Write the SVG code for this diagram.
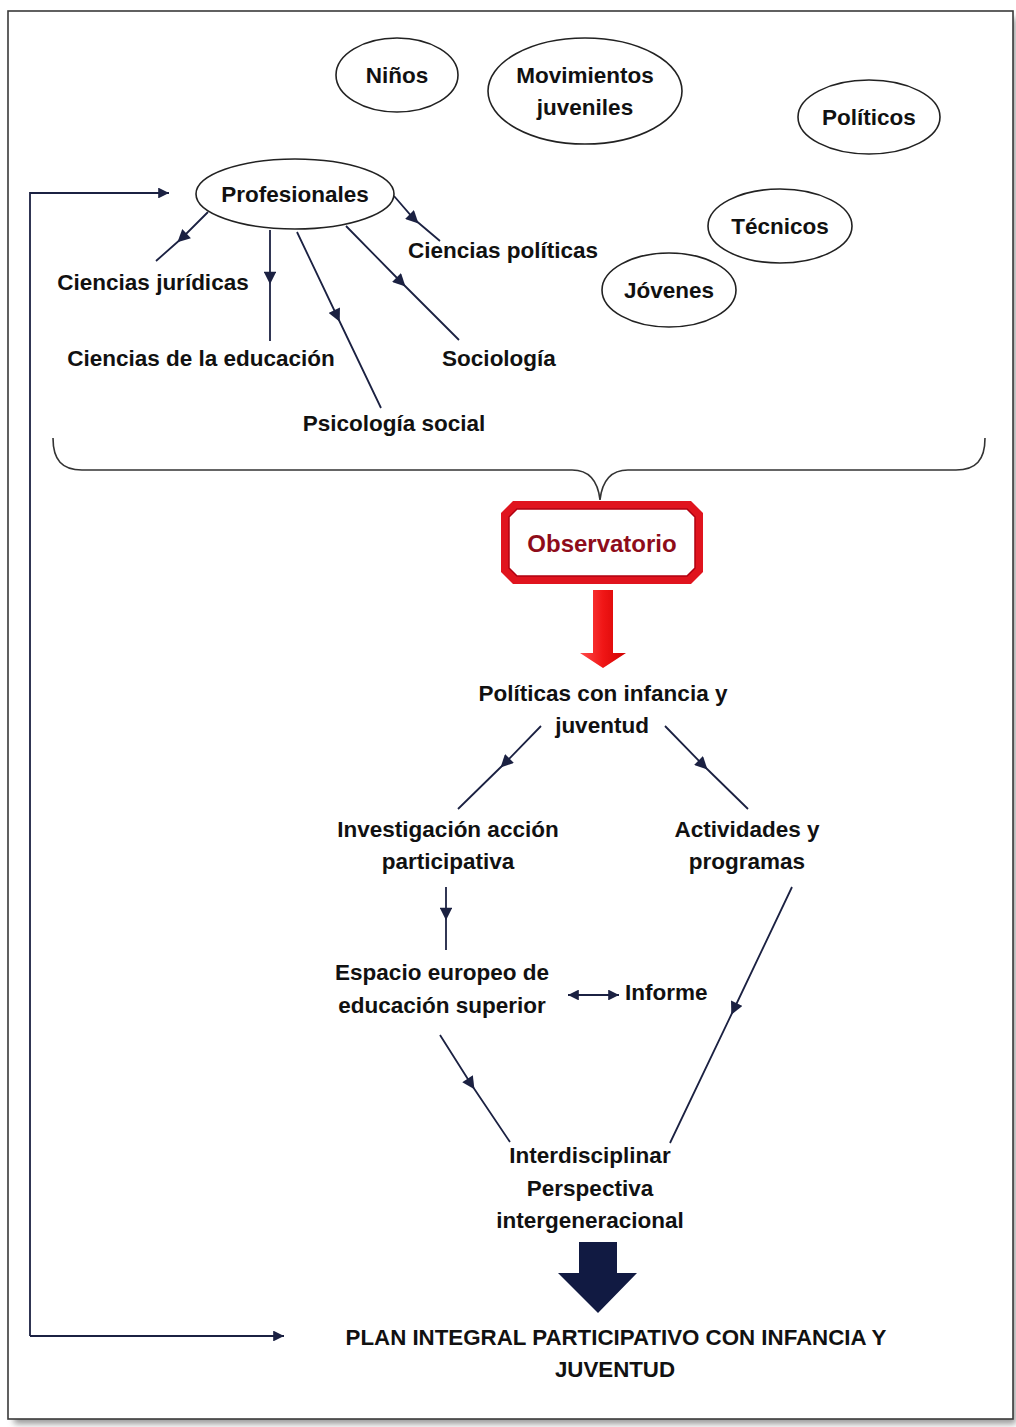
<svg xmlns="http://www.w3.org/2000/svg" width="1016" height="1427" viewBox="0 0 1016 1427">
  <defs>
    <style>
      .t { font-family: "Liberation Sans", Arial, sans-serif; font-weight: bold; font-size: 22.5px; fill: #111; text-anchor: middle; }
      .cap { font-size: 22.3px; }
      .obs { font-size: 24px; fill: #8e0c1a; }
      .el { fill: #fff; stroke: #222; stroke-width: 1.6; }
      .ln { fill: none; stroke: #1b2142; stroke-width: 1.8; }
      .mid { marker-mid: url(#ah); }
    </style>
    <marker id="ah" viewBox="0 0 10 10" refX="5" refY="5" markerWidth="7.5" markerHeight="7" markerUnits="strokeWidth" orient="auto">
      <path d="M0,0 L10,5 L0,10 Z" fill="#1b2142"/>
    </marker>
    <marker id="ahe" viewBox="0 0 10 10" refX="10" refY="5" markerWidth="6.5" markerHeight="6" markerUnits="strokeWidth" orient="auto-start-reverse">
      <path d="M0,0 L10,5 L0,10 Z" fill="#1b2142"/>
    </marker>
    <linearGradient id="redg" x1="0" y1="0" x2="1" y2="0">
      <stop offset="0" stop-color="#ff4a4a"/>
      <stop offset="0.5" stop-color="#f01616"/>
      <stop offset="1" stop-color="#d00000"/>
    </linearGradient>
    <filter id="sh" x="-5%" y="-5%" width="110%" height="110%">
      <feGaussianBlur stdDeviation="3"/>
    </filter>
  </defs>

  <rect width="1016" height="1427" fill="#fff"/>
  <!-- frame with shadow -->
  <rect x="14" y="18" width="1002" height="1406" fill="#9a9a9a" filter="url(#sh)"/>
  <rect x="8" y="11" width="1005" height="1408" fill="#fff" stroke="#3a3a3a" stroke-width="1.6"/>

  <!-- connectors -->
  <g id="connectors">
    <!-- feedback loop -->
    <path class="ln" d="M30,1336 L30,193 L169,193" marker-end="url(#ahe)"/>
    <path class="ln" d="M30,1336 L284,1336" marker-end="url(#ahe)"/>
    <!-- Profesionales branches -->
    <path class="ln mid" d="M208,212 L182,238 L156,261"/>
    <path class="ln mid" d="M270,230 L270,278 L270,341"/>
    <path class="ln mid" d="M297,232 L337,316 L381,408"/>
    <path class="ln mid" d="M346,226 L401,282 L459,340"/>
    <path class="ln mid" d="M394,196 L414,219 L440,241"/>
    <!-- brace -->
    <path d="M53,438 C53,460 62,470 82,470 L572,470 C590,470 598,482 600,500 C602,482 610,470 628,470 L956,470 C976,470 985,460 985,438" fill="none" stroke="#333" stroke-width="1.6"/>
    <!-- red arrow -->
    <path d="M593,590 L613,590 L613,653 L626,653 L603,668 L580,653 L593,653 Z" fill="url(#redg)"/>
    <!-- politicas branches -->
    <path class="ln mid" d="M541,726 L505,763 L458,809"/>
    <path class="ln mid" d="M665,726 L703,765 L748,809"/>
    <path class="ln mid" d="M446,887 L446,914 L446,950"/>
    <path class="ln mid" d="M792,887 L734,1009 L670,1143"/>
    <path class="ln mid" d="M440,1035 L471,1084 L510,1142"/>
    <!-- informe double arrow -->
    <path class="ln" d="M568,995 L619,995" marker-start="url(#ahe)" marker-end="url(#ahe)"/>
    <!-- navy arrow -->
    <path d="M579,1242 L617,1242 L617,1273 L637,1273 L598,1313 L558,1273 L579,1273 Z" fill="#111a42"/>
  </g>

  <!-- nodes -->
  <g id="ninos"><ellipse class="el" cx="397" cy="75" rx="61" ry="37"/><text class="t" x="397" y="83">Niños</text></g>
  <g id="movimientos"><ellipse class="el" cx="585" cy="91" rx="97" ry="53"/><text class="t" x="585" y="83">Movimientos</text><text class="t" x="585" y="115">juveniles</text></g>
  <g id="politicos"><ellipse class="el" cx="869" cy="117" rx="71" ry="37"/><text class="t" x="869" y="125">Políticos</text></g>
  <g id="profesionales"><ellipse class="el" cx="295" cy="194" rx="99" ry="35"/><text class="t" x="295" y="202">Profesionales</text></g>
  <g id="tecnicos"><ellipse class="el" cx="780" cy="226" rx="72" ry="37"/><text class="t" x="780" y="234">Técnicos</text></g>
  <g id="jovenes"><ellipse class="el" cx="669" cy="290" rx="67" ry="37"/><text class="t" x="669" y="298">Jóvenes</text></g>

  <g id="cpoliticas"><text class="t" x="503" y="258">Ciencias políticas</text></g>
  <g id="cjuridicas"><text class="t" x="153" y="290">Ciencias jurídicas</text></g>
  <g id="ceducacion"><text class="t" x="201" y="366">Ciencias de la educación</text></g>
  <g id="sociologia"><text class="t" x="499" y="366">Sociología</text></g>
  <g id="psicologia"><text class="t" x="394" y="431">Psicología social</text></g>

  <g id="observatorio">
    <path d="M513,501 L691,501 L703,513 L703,572 L691,584 L513,584 L501,572 L501,513 Z" fill="#e0141e"/>
    <path d="M517,509 L687,509 L695,517 L695,568 L687,576 L517,576 L509,568 L509,517 Z" fill="#fff" stroke="#b00010" stroke-width="1.5"/>
    <text class="t obs" x="602" y="552">Observatorio</text>
  </g>

  <g id="politicas"><text class="t" x="603" y="701">Políticas con infancia y</text><text class="t" x="602" y="733">juventud</text></g>
  <g id="investigacion"><text class="t" x="448" y="837">Investigación acción</text><text class="t" x="448" y="869">participativa</text></g>
  <g id="actividades"><text class="t" x="747" y="837">Actividades y</text><text class="t" x="747" y="869">programas</text></g>
  <g id="espacio"><text class="t" x="442" y="980">Espacio europeo de</text><text class="t" x="442" y="1013">educación superior</text></g>
  <g id="informe"><text class="t" x="625" y="1000" style="text-anchor:start">Informe</text></g>
  <g id="interdisciplinar"><text class="t" x="590" y="1163">Interdisciplinar</text><text class="t" x="590" y="1196">Perspectiva</text><text class="t" x="590" y="1228">intergeneracional</text></g>
  <g id="plan"><text class="t cap" x="616" y="1345">PLAN INTEGRAL PARTICIPATIVO CON INFANCIA Y</text><text class="t cap" x="615" y="1377">JUVENTUD</text></g>
</svg>
